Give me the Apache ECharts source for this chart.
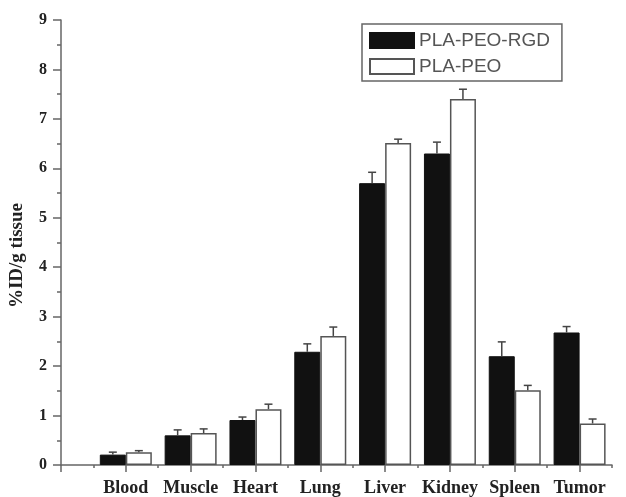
<!DOCTYPE html>
<html>
<head>
<meta charset="utf-8">
<script src="https://cdn.jsdelivr.net/npm/echarts@6/dist/echarts.min.js"></script>
<style>
html,body{margin:0;padding:0;background:#fff;}
#main{width:626px;height:497px;}
</style>
</head>
<body>
<div id="main"></div>
<script>
/* tissue names, placed at x = 1..8 */
var tissues = ['Blood','Muscle','Heart','Lung','Liver','Kidney','Spleen','Tumor'];
var rgdMean = [0.21,0.60,0.91,2.29,5.70,6.30,2.20,2.68];
var rgdErr  = [0.05,0.11,0.06,0.16,0.22,0.23,0.29,0.12];
var peoMean = [0.26,0.645,1.13,2.61,6.51,7.40,1.51,0.84];
var peoErr  = [0.03,0.085,0.10,0.18,0.08,0.20,0.10,0.09];
var yTicks = [0,1,2,3,4,5,6,7,8,9];

var majorX = [0,1,2,3,4,5,6,7,8];
var minorX = [0.5,1.5,2.5,3.5,4.5,5.5,6.5,7.5,8.5];

var barW = 26;

function pairs(vals){
    return vals.map(function(v,i){ return [i+1, v]; });
}
function errPairs(vals,errs){
    return vals.map(function(v,i){ return [i+1, v, errs[i]]; });
}

/*误差线*/
function errorBar(shift){
    return function(params, api){
        var x = api.value(0), m = api.value(1), e = api.value(2);
        var p0 = api.coord([x, m]);
        var p1 = api.coord([x, m+e]);
        var cx = p0[0] + shift;
        var style = {stroke:'#444', lineWidth:1.5};
        return {
            type:'group',
            children:[
                {type:'line', shape:{x1:cx, y1:p0[1], x2:cx, y2:p1[1]}, style:style},
                {type:'line', shape:{x1:cx-4, y1:p1[1], x2:cx+4, y2:p1[1]}, style:style}
            ]
        };
    };
}

var serifFont = '"Liberation Serif","DejaVu Serif",serif';

var option = {
    animation: false,
    grid: {left: 61, right: 14, top: 20, bottom: 29},
    legend: {
        orient: 'vertical',
        left: 362,
        top: 24,
        padding: [7, 12, 5, 7],
        borderColor: '#666',
        borderWidth: 1.5,
        itemWidth: 44,
        itemHeight: 15,
        itemGap: 7,
        icon: 'rect',
        textStyle: {fontFamily: '"Liberation Sans",Arial,sans-serif', fontSize: 19, color: '#555', lineHeight: 16},
        data: ['PLA-PEO-RGD','PLA-PEO']
    },
    xAxis: [
        {
            type: 'value',
            min: 0,
            max: 8.5,
            splitLine: {show: false},
            axisLine: {lineStyle: {color: '#666', width: 1.5}},
            axisTick: {show: true, length: 7, customValues: majorX, lineStyle: {color: '#666', width: 1.5}},
            axisLabel: {
                customValues: [1,2,3,4,5,6,7,8],
                margin: 14,
                fontFamily: serifFont,
                fontWeight: 'bold',
                fontSize: 18,
                color: '#222',
                formatter: function(v){ return tissues[Math.round(v)-1] || ''; }
            }
        },
        {
            type: 'value',
            position: 'bottom',
            min: 0,
            max: 8.5,
            splitLine: {show: false},
            axisLine: {show: false},
            axisTick: {show: true, length: 3, customValues: minorX, lineStyle: {color: '#666', width: 1.5}},
            axisLabel: {show: false}
        }
    ],
    yAxis: {
        type: 'value',
        min: 0,
        max: 9,
        interval: 1,
        name: '%ID/g tissue',
        nameLocation: 'middle',
        nameGap: 34,
        nameTextStyle: {fontFamily: serifFont, fontWeight: 'bold', fontSize: 19, color: '#222', padding: [0, 0, 0, -26]},
        splitLine: {show: false},
        axisLine: {show: true, lineStyle: {color: '#666', width: 1.5}},
        axisTick: {show: true, length: 8, lineStyle: {color: '#666', width: 1.5}},
        minorTick: {show: true, splitNumber: 2, length: 4, lineStyle: {color: '#666', width: 1.5}},
        axisLabel: {
            customValues: yTicks,
            margin: 14,
            fontFamily: serifFont,
            fontWeight: 'bold',
            fontSize: 16,
            color: '#222'
        }
    },
    series: [
        {
            name: 'PLA-PEO-RGD',
            type: 'bar',
            barWidth: barW,
            barGap: '0%',
            itemStyle: {color: '#111', borderColor: '#111', borderWidth: 1},
            data: pairs(rgdMean)
        },
        {
            name: 'PLA-PEO',
            type: 'bar',
            barWidth: barW,
            barGap: '0%',
            itemStyle: {color: '#fff', borderColor: '#555', borderWidth: 1.5},
            data: pairs(peoMean)
        },
        {
            type: 'custom',
            renderItem: errorBar(-barW/2),
            encode: {x: 0, y: 1},
            z: 3,
            data: errPairs(rgdMean, rgdErr)
        },
        {
            type: 'custom',
            renderItem: errorBar(barW/2),
            encode: {x: 0, y: 1},
            z: 3,
            data: errPairs(peoMean, peoErr)
        }
    ]
};

var myChart = echarts.init(document.getElementById('main'));
myChart.setOption(option);
</script>
</body>
</html>
